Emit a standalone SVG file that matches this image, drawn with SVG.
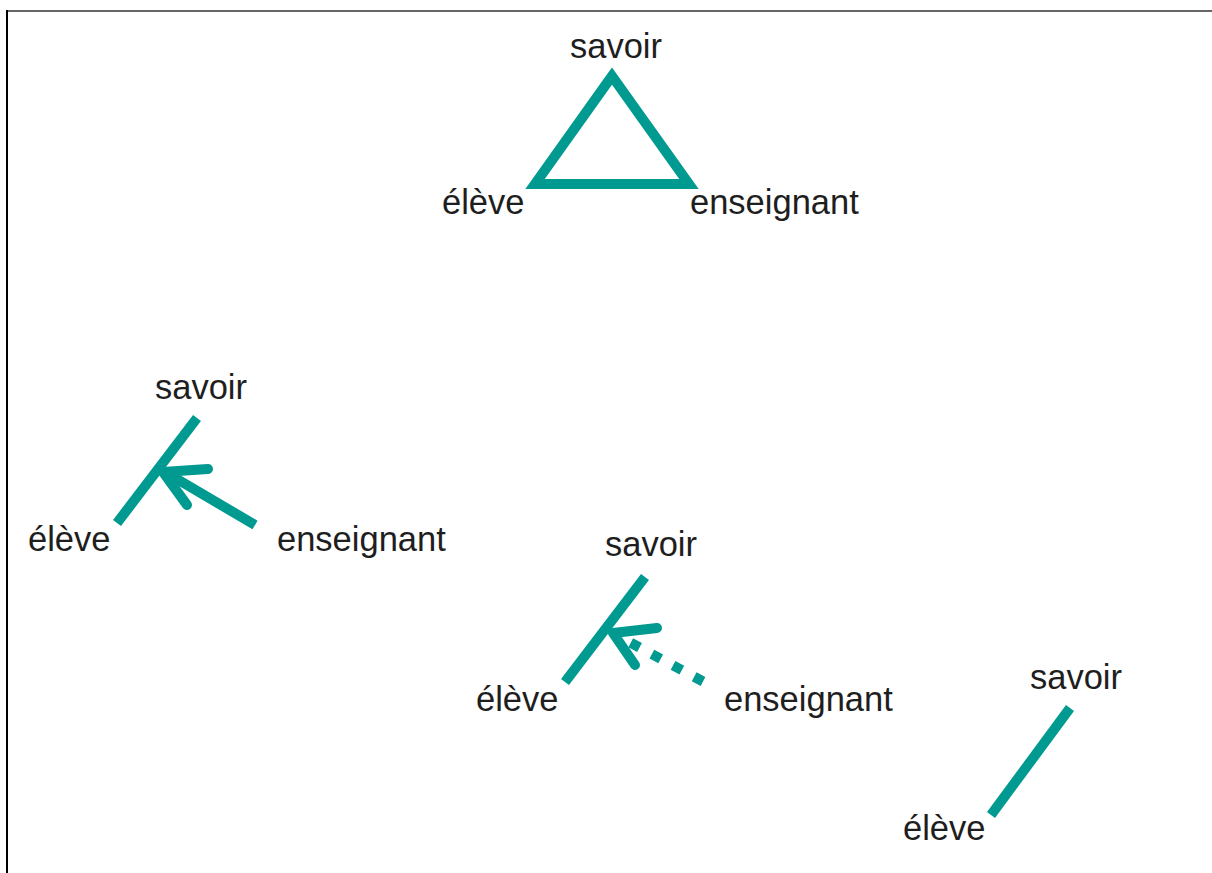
<svg xmlns="http://www.w3.org/2000/svg" width="1212" height="873" viewBox="0 0 1212 873">
  <style>
    .lbl { font-family: "Liberation Sans", Arial, sans-serif; font-size: 34.5px; fill: #1e1e1e; }
    .edge { fill: none; stroke: #009a90; stroke-width: 10; }
    .wing { fill: none; stroke: #009a90; stroke-width: 10; stroke-linecap: round; stroke-linejoin: round; }
    .dotted { stroke-dasharray: 10 14; }
  </style>
  <rect width="1212" height="873" fill="#ffffff"/>
  <!-- frame: top and left rules -->
  <line x1="6" y1="11" x2="1212" y2="11" stroke="#333" stroke-width="1.5"/>
  <line x1="7" y1="10" x2="7" y2="873" stroke="#000" stroke-width="2"/>

  <g id="connectors">
    <!-- triangle: savoir / élève / enseignant -->
    <polygon class="edge" points="612,76 535,184 689,184" stroke-linejoin="miter" stroke-width="9"/>
    <!-- diagram 2 -->
    <line class="edge" x1="117" y1="523" x2="197" y2="418"/>
    <line class="edge" x1="255" y1="525" x2="165" y2="472"/>
    <polyline class="wing" points="208,469 163,472 187,505"/>
    <!-- diagram 3 -->
    <line class="edge" x1="565" y1="682" x2="645" y2="577"/>
    <line class="edge dotted" x1="703" y1="681.5" x2="620" y2="637"/>
    <polyline class="wing" points="657,628 613,633 635,665"/>
    <!-- diagram 4 -->
    <line class="edge" x1="991" y1="815" x2="1070" y2="708"/>
  </g>

  <g id="d1-savoir"><text class="lbl" x="570" y="58">savoir</text></g>
  <g id="d1-eleve"><text class="lbl" x="442" y="214">élève</text></g>
  <g id="d1-enseignant"><text class="lbl" x="690" y="214">enseignant</text></g>

  <g id="d2-savoir"><text class="lbl" x="155" y="399">savoir</text></g>
  <g id="d2-eleve"><text class="lbl" x="28" y="551">élève</text></g>
  <g id="d2-enseignant"><text class="lbl" x="277" y="551">enseignant</text></g>

  <g id="d3-savoir"><text class="lbl" x="605" y="556">savoir</text></g>
  <g id="d3-eleve"><text class="lbl" x="476" y="711">élève</text></g>
  <g id="d3-enseignant"><text class="lbl" x="724" y="711">enseignant</text></g>

  <g id="d4-savoir"><text class="lbl" x="1030" y="689">savoir</text></g>
  <g id="d4-eleve"><text class="lbl" x="903" y="840">élève</text></g>
</svg>
